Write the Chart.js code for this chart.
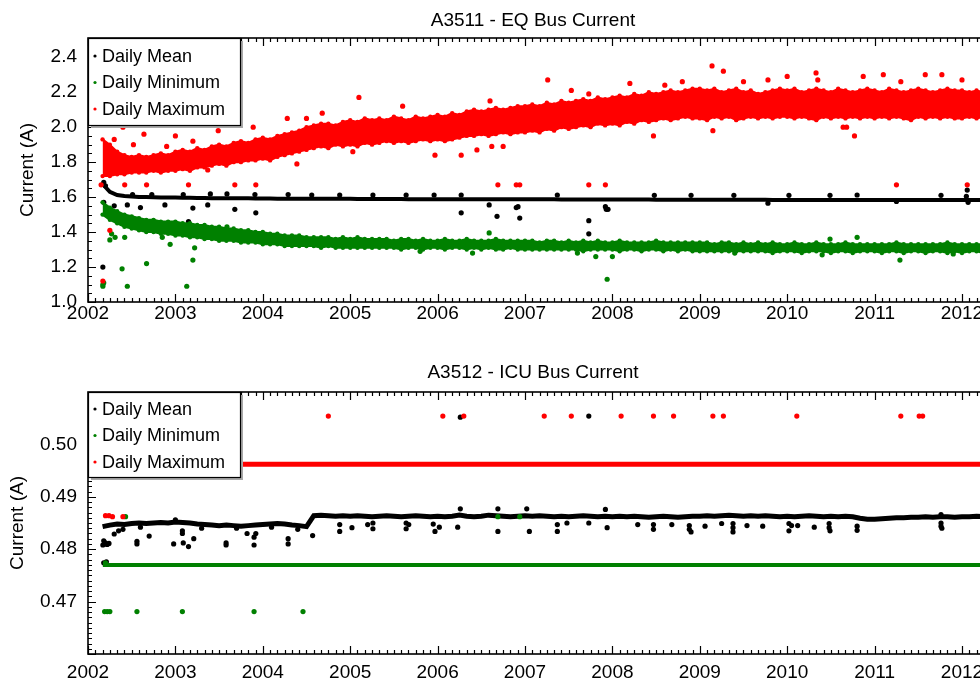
<!DOCTYPE html>
<html>
<head>
<meta charset="utf-8">
<script src="https://cdn.jsdelivr.net/npm/chart.js@4.4.1/dist/chart.umd.min.js"></script>
<style>
  html, body { margin: 0; padding: 0; background: #fff; overflow: hidden; }
  #wrap { width: 980px; height: 678px; overflow: hidden; }
  canvas { display: block; }
</style>
</head>
<body>
<div id="wrap">
  <canvas id="eq" width="1008" height="339"></canvas>
  <canvas id="icu" width="1008" height="339"></canvas>
</div>
<script>
// ---- data ----
const xTicks = [2002, 2003, 2004, 2005, 2006, 2007, 2008, 2009, 2010, 2011, 2012];
const eqYTicks = [1.0, 1.2, 1.4, 1.6, 1.8, 2.0, 2.2, 2.4];
const icuYTicks = [0.47, 0.48, 0.49, 0.50];
const legendLabels = ["Daily Mean", "Daily Minimum", "Daily Maximum"];

// monthly readings, Mar 2002 .. Apr 2012
const firstMonth = 2002 + 2 / 12;

// A3511 daily maximum, upper / lower edge of the band
const eqMaxHigh = [
  1.93,1.90,1.86,1.84,1.83,1.84,1.83,1.84,1.85,1.84,
  1.86,1.87,1.86,1.88,1.87,1.89,1.90,1.89,1.91,1.92,1.91,1.93,
  1.94,1.93,1.95,1.96,1.97,1.98,2.00,2.01,2.02,2.02,2.01,2.03,
  2.04,2.03,2.05,2.04,2.05,2.04,2.06,2.05,2.04,2.06,2.05,2.06,
  2.07,2.06,2.08,2.07,2.09,2.10,2.09,2.10,2.11,2.10,2.11,2.12,
  2.12,2.13,2.12,2.14,2.13,2.15,2.14,2.15,2.16,2.15,2.17,2.16,
  2.17,2.18,2.17,2.19,2.18,2.20,2.19,2.20,2.21,2.20,2.21,2.22,
  2.22,2.21,2.22,2.20,2.21,2.22,2.20,2.21,2.19,2.20,2.21,2.22,
  2.21,2.22,2.20,2.21,2.22,2.21,2.20,2.22,2.21,2.20,2.21,2.22,
  2.21,2.20,2.22,2.21,2.20,2.21,2.22,2.21,2.20,2.21,2.22,2.21,
  2.21,2.20,2.21,2.20
];
const eqMaxLow = [
  1.72,1.72,1.73,1.73,1.74,1.74,1.74,1.75,1.74,1.75,
  1.75,1.76,1.75,1.77,1.77,1.78,1.79,1.78,1.80,1.80,1.81,1.81,
  1.82,1.81,1.83,1.84,1.85,1.86,1.87,1.88,1.89,1.88,1.90,1.89,
  1.90,1.89,1.91,1.90,1.91,1.92,1.91,1.92,1.91,1.92,1.93,1.92,
  1.93,1.92,1.93,1.94,1.95,1.95,1.96,1.95,1.96,1.97,1.96,1.97,
  1.97,1.98,1.97,1.99,1.98,2.00,1.99,2.00,2.01,2.00,2.02,2.01,
  2.02,2.01,2.03,2.02,2.04,2.03,2.04,2.05,2.04,2.05,2.06,2.05,
  2.05,2.04,2.06,2.05,2.06,2.04,2.05,2.06,2.05,2.06,2.05,2.06,
  2.06,2.05,2.06,2.05,2.04,2.06,2.05,2.06,2.05,2.06,2.05,2.06,
  2.05,2.06,2.05,2.06,2.05,2.04,2.06,2.05,2.06,2.05,2.06,2.05,
  2.05,2.06,2.05,2.06
];
const eqMaxOut = [
  [2002.15,1.67],[2002.17,1.12],[2002.25,1.41],[2002.42,1.67],[2002.67,1.67],[2003.15,1.67],
  [2003.68,1.67],[2003.92,1.67],[2002.40,2.00],[2002.64,1.96],[2002.30,1.93],[2002.52,1.90],
  [2003.00,1.95],[2003.49,1.98],[2003.89,2.00],[2004.28,2.05],[2004.50,2.05],[2004.68,2.08],
  [2003.37,1.755],[2004.39,1.79],[2002.90,1.89],[2003.20,1.92],[2005.10,2.17],[2005.03,1.86],
  [2005.97,1.84],[2006.27,1.84],[2006.75,1.89],[2006.62,1.89],[2007.26,2.27],[2007.53,2.21],
  [2007.73,2.19],[2008.20,2.25],[2006.45,1.87],[2005.60,2.12],[2006.60,2.15],[2006.69,1.67],
  [2006.90,1.67],[2006.94,1.67],[2007.73,1.67],[2007.92,1.67],[2011.25,1.67],[2012.06,1.67],
  [2008.47,1.95],[2009.14,2.35],[2009.27,2.32],[2009.15,1.98],[2009.78,2.27],[2010.00,2.29],
  [2010.33,2.31],[2010.35,2.27],[2010.77,1.95],[2010.68,2.00],[2010.87,2.29],[2011.10,2.30],
  [2011.58,2.30],[2011.77,2.30],[2010.64,2.00],[2009.50,2.26],[2011.30,2.26],[2012.00,2.27],
  [2008.80,2.26],[2008.60,2.24]
];

// A3511 daily mean
const eqMean = [
  1.675,1.630,1.612,1.606,1.603,1.601,1.600,1.599,1.598,1.598,
  1.597,1.596,1.596,1.595,1.595,1.594,1.594,1.594,1.593,1.593,1.593,1.592,
  1.592,1.592,1.591,1.591,1.591,1.591,1.590,1.590,1.590,1.590,1.590,1.590,
  1.590,1.589,1.589,1.589,1.589,1.589,1.589,1.589,1.588,1.588,1.588,1.588,
  1.588,1.588,1.588,1.588,1.588,1.587,1.587,1.587,1.587,1.587,1.587,1.587,
  1.587,1.587,1.587,1.587,1.587,1.586,1.586,1.586,1.586,1.586,1.586,1.586,
  1.586,1.586,1.586,1.586,1.586,1.586,1.585,1.585,1.585,1.585,1.585,1.585,
  1.585,1.585,1.585,1.585,1.585,1.585,1.585,1.585,1.585,1.585,1.584,1.584,
  1.584,1.584,1.584,1.584,1.584,1.584,1.584,1.584,1.584,1.584,1.584,1.584,
  1.584,1.584,1.584,1.583,1.583,1.583,1.583,1.583,1.583,1.583,1.583,1.583,
  1.583,1.583,1.583,1.583
];
const eqMeanOut = [
  [2002.17,1.20],[2002.18,1.57],[2002.45,1.555],[2002.88,1.555],[2003.20,1.537],[2003.15,1.46],
  [2003.37,1.555],[2003.68,1.53],[2003.92,1.51],[2003.68,1.39],[2002.30,1.55],[2002.60,1.54],
  [2002.18,1.685],[2002.20,1.665],
  [2006.27,1.51],[2006.59,1.555],[2006.68,1.49],[2006.90,1.54],[2006.92,1.545],[2006.94,1.48],
  [2007.73,1.465],[2007.73,1.39],[2007.92,1.545],[2007.93,1.53],[2007.95,1.53],[2009.78,1.565],
  [2011.25,1.575],[2012.06,1.64],[2012.07,1.57],
  // short upward bumps
  [2002.51,1.615],[2002.73,1.615],[2003.09,1.615],[2003.40,1.618],[2003.59,1.618],[2003.91,1.615],
  [2004.29,1.615],[2004.56,1.612],[2004.88,1.612],[2005.26,1.612],[2005.64,1.612],[2005.96,1.612],
  [2006.27,1.612],[2007.37,1.612],[2008.48,1.610],[2008.90,1.610],[2009.39,1.610],[2010.02,1.610],
  [2010.49,1.610],[2010.80,1.612],[2011.76,1.610],[2012.05,1.605]
];

// A3511 daily minimum, upper / lower edge of the band
const eqMinHigh = [
  1.57,1.54,1.52,1.50,1.49,1.48,1.47,1.47,1.46,1.46,
  1.46,1.45,1.45,1.44,1.44,1.43,1.43,1.42,1.42,1.41,1.41,1.40,
  1.40,1.39,1.39,1.38,1.38,1.38,1.37,1.37,1.37,1.37,1.36,1.37,
  1.36,1.37,1.36,1.36,1.36,1.36,1.35,1.36,1.36,1.35,1.36,1.35,
  1.35,1.36,1.35,1.35,1.36,1.35,1.35,1.35,1.36,1.35,1.35,1.35,
  1.35,1.35,1.34,1.35,1.35,1.34,1.35,1.34,1.35,1.34,1.35,1.34,
  1.34,1.35,1.34,1.34,1.34,1.34,1.35,1.34,1.34,1.34,1.34,1.34,
  1.34,1.34,1.33,1.34,1.34,1.33,1.34,1.33,1.34,1.33,1.34,1.33,
  1.33,1.34,1.33,1.33,1.34,1.33,1.33,1.33,1.34,1.33,1.33,1.33,
  1.33,1.33,1.33,1.34,1.33,1.33,1.33,1.33,1.33,1.33,1.34,1.33,
  1.33,1.33,1.33,1.33
];
const eqMinLow = [
  1.50,1.47,1.45,1.43,1.42,1.41,1.40,1.40,1.39,1.39,
  1.38,1.38,1.37,1.37,1.36,1.36,1.35,1.35,1.35,1.34,1.34,1.34,
  1.33,1.33,1.33,1.32,1.32,1.32,1.32,1.32,1.31,1.32,1.31,1.31,
  1.31,1.31,1.31,1.31,1.31,1.31,1.31,1.30,1.31,1.31,1.30,1.31,
  1.31,1.30,1.31,1.31,1.30,1.31,1.30,1.31,1.30,1.30,1.31,1.30,
  1.30,1.30,1.30,1.30,1.30,1.30,1.30,1.30,1.29,1.30,1.30,1.30,
  1.30,1.29,1.30,1.30,1.29,1.30,1.30,1.29,1.30,1.29,1.30,1.29,
  1.29,1.29,1.29,1.29,1.29,1.29,1.29,1.29,1.29,1.29,1.28,1.29,
  1.29,1.29,1.28,1.29,1.29,1.29,1.28,1.29,1.29,1.28,1.29,1.29,
  1.29,1.28,1.29,1.29,1.28,1.29,1.29,1.28,1.29,1.29,1.28,1.29,
  1.28,1.29,1.29,1.28
];
const eqMinOut = [
  [2002.17,1.10],[2002.17,1.09],[2002.18,1.11],[2002.39,1.19],[2002.45,1.09],[2002.67,1.22],
  [2003.13,1.09],[2003.20,1.24],[2003.22,1.31],[2002.23,1.50],[2002.27,1.39],[2002.25,1.355],
  [2002.31,1.37],[2002.42,1.37],[2002.94,1.33],[2003.59,1.43],[2003.50,1.37],[2002.85,1.37],
  [2006.59,1.395],[2007.94,1.13],[2007.81,1.26],[2008.00,1.26],[2007.60,1.28],[2011.29,1.24],
  [2010.80,1.37],[2010.49,1.36],[2009.40,1.28],[2010.40,1.27],[2011.90,1.275],[2005.80,1.29],
  [2006.40,1.28]
];

// A3512 levels and readings
const icuMaxLevel = 0.4962;
const icuMinLevel = 0.4770;
const icuSpan = [2002.17, 2012.25];
const icuMean = [
  0.4843,0.4846,0.4848,0.4847,0.4849,0.4850,0.4849,0.4850,0.4851,0.4850,
  0.4852,0.4851,0.4850,0.4848,0.4847,0.4846,0.4845,0.4846,0.4845,0.4844,0.4845,0.4846,
  0.4847,0.4848,0.4849,0.4848,0.4846,0.4845,0.4843,0.4864,0.4865,0.4864,0.4863,0.4864,
  0.4863,0.4864,0.4863,0.4862,0.4863,0.4864,0.4863,0.4862,0.4863,0.4864,0.4863,0.4862,
  0.4863,0.4862,0.4863,0.4865,0.4863,0.4862,0.4863,0.4865,0.4864,0.4863,0.4862,0.4863,
  0.4864,0.4863,0.4864,0.4863,0.4862,0.4863,0.4862,0.4863,0.4864,0.4863,0.4862,0.4863,
  0.4862,0.4863,0.4862,0.4863,0.4862,0.4861,0.4862,0.4863,0.4862,0.4861,0.4862,0.4863,
  0.4863,0.4864,0.4863,0.4864,0.4865,0.4864,0.4863,0.4864,0.4863,0.4864,0.4863,0.4862,
  0.4863,0.4862,0.4863,0.4864,0.4863,0.4862,0.4863,0.4862,0.4863,0.4862,0.4859,0.4857,
  0.4857,0.4858,0.4859,0.4860,0.4860,0.4861,0.4861,0.4862,0.4861,0.4862,0.4862,0.4861,
  0.4862,0.4862,0.4863,0.4862
];
const icuMaxOut = [
  [2004.75,0.5054],[2006.06,0.5054],[2006.30,0.5054],[2007.22,0.5054],[2007.53,0.5054],
  [2008.10,0.5054],[2008.47,0.5054],[2008.70,0.5054],[2009.15,0.5054],[2009.27,0.5054],
  [2010.11,0.5054],[2011.30,0.5054],[2011.51,0.5054],[2011.55,0.5054],
  [2002.20,0.4864],[2002.24,0.4864],[2002.28,0.4862],[2002.40,0.4862]
];
const icuMinOut = [
  [2002.19,0.4681],[2002.22,0.4681],[2002.25,0.4681],[2002.56,0.4681],[2003.08,0.4681],
  [2003.90,0.4681],[2004.46,0.4681],[2002.43,0.4862],[2006.69,0.4862],[2006.94,0.4862],
  [2002.20,0.4774]
];
const icuMeanOut = [
  [2002.17,0.4808],[2002.19,0.4810],[2002.20,0.4812],[2002.18,0.4774],[2002.21,0.4776],
  [2002.18,0.4816],[2002.22,0.4809],[2002.24,0.4811],
  [2002.30,0.4829],[2002.35,0.4835],[2002.56,0.4815],[2002.56,0.4810],[2002.70,0.4825],
  [2002.98,0.4810],[2003.08,0.4835],[2003.08,0.4830],[2003.09,0.4812],[2003.15,0.4805],
  [2003.21,0.4820],[2003.58,0.4812],[2003.58,0.4808],[2003.82,0.4830],[2003.90,0.4823],
  [2003.90,0.4808],[2003.92,0.4830],[2004.29,0.4820],[2004.29,0.4810],[2004.57,0.4826],
  [2002.40,0.4838],[2002.60,0.4842],[2003.30,0.4840],[2003.00,0.4856],[2004.10,0.4842],
  [2004.40,0.4838],[2003.70,0.4840],
  [2004.88,0.4847],[2004.88,0.4834],[2005.02,0.4841],[2005.20,0.4847],[2005.26,0.4850],
  [2005.26,0.4839],[2005.64,0.4850],[2005.67,0.4847],[2005.64,0.4839],[2005.95,0.4848],
  [2005.97,0.4834],[2006.02,0.4842],[2006.23,0.4842],[2006.69,0.4834],[2006.26,0.4877],
  [2006.26,0.5052],[2006.69,0.4877],[2007.02,0.4877],[2007.05,0.4834],[2007.37,0.4847],
  [2007.37,0.4834],[2007.48,0.4850],[2007.73,0.4850],[2007.73,0.5054],[2007.92,0.4876],
  [2007.94,0.4841],[2008.29,0.4847],[2008.47,0.4847],[2008.47,0.4838],[2008.68,0.4847],
  [2008.88,0.4845],[2008.88,0.4838],[2008.90,0.4833],[2009.06,0.4844],[2009.25,0.4849],
  [2009.38,0.4849],[2009.38,0.4841],[2009.38,0.4833],[2009.54,0.4845],[2009.72,0.4844],
  [2010.02,0.4849],[2010.02,0.4835],[2010.05,0.4845],[2010.12,0.4845],[2010.31,0.4842],
  [2010.48,0.4849],[2010.48,0.4841],[2010.49,0.4835],[2010.80,0.4844],[2010.80,0.4836],
  [2011.76,0.4850],[2011.76,0.4844],[2011.77,0.4840],[2011.76,0.4866]
];

// ---- drawing ----
const RED = "rgb(255,0,0)", GREEN = "rgb(0,128,0)", BLACK = "#000";
const FONT = "'Liberation Sans', Arial, Helvetica, sans-serif";

const monthly = arr => arr.map((v, i) => ({x: firstMonth + i / 12, y: v}));
const pairs = arr => arr.map(p => ({x: p[0], y: p[1]}));
const level = v => icuSpan.map(x => ({x, y: v}));

function dots(data, color, order, r) {
  return {data, showLine: false, pointRadius: r || 2.6, pointBackgroundColor: color,
    pointBorderColor: color, pointBorderWidth: 0, order};
}
function edge(data, color, order, fill) {
  return {data, showLine: true, borderColor: color, borderWidth: 2, backgroundColor: color,
    fill: fill ? "+1" : false, pointRadius: 2.2, pointBackgroundColor: color,
    pointBorderWidth: 0, order};
}
function trace(data, color, order, w) {
  return {data, showLine: true, borderColor: color, borderWidth: w, pointRadius: 0,
    fill: false, order};
}

const panel = {
  id: "panel",
  afterDatasetsDraw(chart, args, o) {
    const {ctx, chartArea: a, scales: {x, y}} = chart;
    ctx.save();
    // title over the plot area
    ctx.fillStyle = "#000";
    ctx.font = "19px " + FONT;
    ctx.textAlign = "center";
    ctx.textBaseline = "middle";
    ctx.fillText(o.title, 533, o.titleY);

    // inward tick marks
    ctx.strokeStyle = "#000";
    ctx.lineWidth = 1.2;
    ctx.beginPath();
    for (let m = 2002 * 12; m / 12 <= x.max; m++) {
      const px = Math.round(x.getPixelForValue(m / 12)) + 0.5;
      const len = m % 12 === 0 ? 8 : 4;
      ctx.moveTo(px, a.bottom); ctx.lineTo(px, a.bottom - len);
      ctx.moveTo(px, a.top); ctx.lineTo(px, a.top + len);
    }
    for (let i = 0; y.min + i * o.minor <= y.max + 1e-9; i++) {
      const py = Math.round(y.getPixelForValue(y.min + i * o.minor)) + 0.5;
      const len = i % o.perMajor === 0 ? 8 : 4;
      ctx.moveTo(a.left, py); ctx.lineTo(a.left + len, py);
    }
    ctx.stroke();
    ctx.lineWidth = 1.6;
    ctx.strokeRect(a.left, a.top, a.right - a.left, a.bottom - a.top);

    // legend box
    const L = a.left, T = a.top, W = 152, H = o.legendH;
    ctx.fillStyle = "#a8a8a8";
    ctx.fillRect(L + 3, T + 3, W, H);
    ctx.fillStyle = "#fff";
    ctx.fillRect(L, T, W, H);
    ctx.lineWidth = 1.2;
    ctx.strokeRect(L + 0.5, T + 0.5, W, H);
    const colors = [BLACK, GREEN, RED];
    ctx.font = "18px " + FONT;
    ctx.textAlign = "left";
    legendLabels.forEach((lab, i) => {
      const cy = T + o.legendY0 + i * 26.5;
      ctx.fillStyle = colors[i];
      ctx.beginPath(); ctx.arc(L + 7, cy, 1.6, 0, Math.PI * 2); ctx.fill();
      ctx.fillStyle = "#000";
      ctx.fillText(lab, L + 14, cy + 1);
    });
    ctx.restore();
  }
};

function makeChart(id, datasets, p) {
  return new Chart(document.getElementById(id), {
    type: "line",
    data: {datasets},
    plugins: [panel],
    options: {
      responsive: false,
      animation: false,
      events: [],
      layout: {padding: {top: p.top, right: 26, left: 0, bottom: 0}},
      plugins: {
        legend: {display: false},
        title: {display: false},
        tooltip: {enabled: false},
        panel: p.panel
      },
      scales: {
        x: {
          type: "linear", min: 2002, max: 2012.229,
          afterBuildTicks: s => { s.ticks = xTicks.map(v => ({value: v})); },
          afterFit: s => { s.height = p.xh; },
          ticks: {autoSkip: false, maxRotation: 0, color: "#000", padding: p.xpad,
            font: {size: 19, family: FONT}, callback: v => String(v)},
          grid: {display: false}, border: {display: false}
        },
        y: {
          min: p.ymin, max: p.ymax,
          afterBuildTicks: s => { s.ticks = p.yTicks.map(v => ({value: v})); },
          afterFit: s => { s.width = 88; },
          ticks: {color: "#000", padding: 3, font: {size: 19, family: FONT},
            callback: v => v.toFixed(p.dec)},
          grid: {display: false}, border: {display: false},
          title: {display: true, text: "Current (A)", color: "#000",
            font: {size: 19, family: FONT}, padding: {top: p.ytitle, bottom: 0}}
        }
      }
    }
  });
}

makeChart("eq", [
  edge(monthly(eqMaxHigh), RED, 1, true),
  edge(monthly(eqMaxLow), RED, 1, false),
  dots(pairs(eqMaxOut), RED, 1),
  edge(monthly(eqMinHigh), GREEN, 2, true),
  edge(monthly(eqMinLow), GREEN, 2, false),
  dots(pairs(eqMinOut), GREEN, 2),
  trace(monthly(eqMean), BLACK, 3, 4),
  dots(pairs(eqMeanOut), BLACK, 3)
], {top: 38, xh: 37, xpad: -8, ymin: 1.0, ymax: 2.51, yTicks: eqYTicks, dec: 1, ytitle: 16.5,
    panel: {title: "A3511 - EQ Bus Current", titleY: 21, minor: 0.05, perMajor: 4,
            legendH: 87, legendY0: 18}});

makeChart("icu", [
  trace(level(icuMaxLevel), RED, 1, 5),
  dots(pairs(icuMaxOut), RED, 1),
  trace(level(icuMinLevel), GREEN, 2, 4),
  dots(pairs(icuMinOut), GREEN, 2),
  trace(monthly(icuMean), BLACK, 3, 5),
  dots(pairs(icuMeanOut), BLACK, 3)
], {top: 53, xh: 24, xpad: -1, ymin: 0.46, ymax: 0.51, yTicks: icuYTicks, dec: 2, ytitle: 6.5,
    panel: {title: "A3512 - ICU Bus Current", titleY: 34, minor: 0.001, perMajor: 10,
            legendH: 85, legendY0: 17}});
</script>
</body>
</html>
